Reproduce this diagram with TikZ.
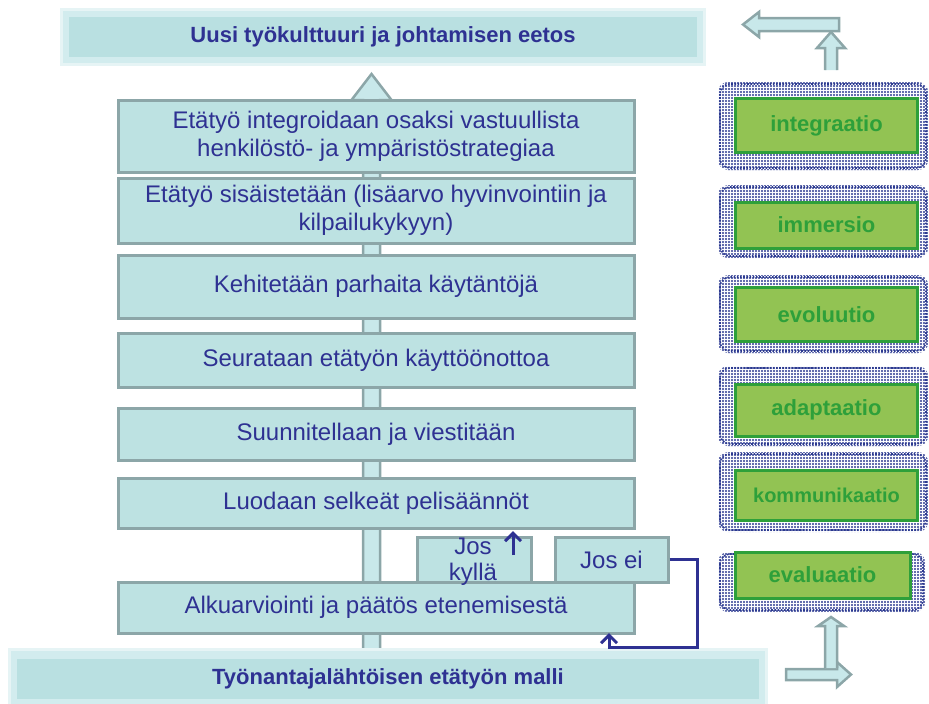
\documentclass[tikz,border=0pt]{standalone}
\usepackage{fontspec}
\setmainfont{Liberation Sans}
\usetikzlibrary{arrows.meta,patterns.meta,calc}
\definecolor{navy}{HTML}{2E3192}
\definecolor{stepfill}{HTML}{BDE2E2}
\definecolor{stepline}{HTML}{8CA6A8}
\definecolor{glowout}{HTML}{E6F4F5}
\definecolor{glowmid}{HTML}{D2ECEE}
\definecolor{glowin}{HTML}{B9E0E1}
\definecolor{greenfill}{HTML}{92C353}
\definecolor{greenline}{HTML}{2EA03A}
\definecolor{dotblue}{HTML}{2B3990}
\definecolor{arrfill}{HTML}{C8E8EA}
\tikzdeclarepattern{name=halodots,type=uncolored,
  bottom left={(-1.5pt,-1.5pt)},top right={(1.5pt,1.5pt)},
  tile size={(3pt,3pt)},code={\fill (0pt,0pt) circle (1.05pt);}}
\tikzset{
  stepbox/.style={draw=stepline,fill=stepfill,line width=3pt,text=navy,
    align=center,font=\fontsize{24}{28}\selectfont,inner sep=0pt},
  glowtext/.style={text=navy,font=\fontsize{22}{26}\selectfont\bfseries},
  greenbox/.style={draw=greenline,fill=greenfill,line width=3pt,text=greenline,
    font=\fontsize{22}{26}\selectfont\bfseries,inner sep=0pt},
  halo/.style={pattern=halodots,pattern color=dotblue,rounded corners=10pt},
  haloedge/.style={draw=dotblue,line width=1.6pt,dash pattern=on 1.6pt off 1.6pt,rounded corners=10pt},
  hollow/.style={draw=stepline,fill=arrfill,line width=2.5pt,line join=miter},
  navyline/.style={draw=navy,line width=3pt,-{Straight Barb[length=8pt,width=16pt,line width=3pt]}}
}
\begin{document}
\begin{tikzpicture}[x=1pt,y=-1pt]
\useasboundingbox (0,0) rectangle (929,704);
% central hollow arrow
\coordinate (cb) at (371.5,650);
\coordinate (ct) at (371.5,74);
\draw[hollow] ($(cb)+(-8.5,0)$) -- ($(ct)+(-8.5,26)$) -- ($(ct)+(-20,26)$) -- (ct)
  -- ($(ct)+(20,26)$) -- ($(ct)+(8.5,26)$) -- ($(cb)+(8.5,0)$);
% top glow box
\fill[glowout] (60,8) rectangle (706,66);
\fill[glowmid] (63,11) rectangle (703,63);
\node[fill=glowin,minimum width=628pt,minimum height=40pt,inner sep=0pt,glowtext] (top) at (383,37) {Uusi työkulttuuri ja johtamisen eetos};
% bottom glow box
\fill[glowout] (8,648) rectangle (768,704);
\fill[glowmid] (11,651) rectangle (765,704);
\node[fill=glowin,minimum width=742pt,minimum height=40pt,inner sep=0pt,glowtext] (bottom) at (388,679) {Työnantajalähtöisen etätyön malli};
% steps
\node[stepbox,minimum width=516pt,minimum height=72pt] (s1) at (376,136) {Etätyö integroidaan osaksi vastuullista\\henkilöstö- ja ympäristöstrategiaa};
\node[stepbox,minimum width=516pt,minimum height=65pt] (s2) at (376,210.5) {Etätyö sisäistetään (lisäarvo hyvinvointiin ja\\kilpailukykyyn)};
\node[stepbox,minimum width=516pt,minimum height=63pt] (s3) at (376,286.5) {Kehitetään parhaita käytäntöjä};
\node[stepbox,minimum width=516pt,minimum height=54pt] (s4) at (376,360) {Seurataan etätyön käyttöönottoa};
\node[stepbox,minimum width=516pt,minimum height=52pt] (s5) at (376,434) {Suunnitellaan ja viestitään};
\node[stepbox,minimum width=516pt,minimum height=50pt] (s6) at (376,503) {Luodaan selkeät pelisäännöt};
\node[stepbox,minimum width=516pt,minimum height=51pt] (s7) at (376,607.5) {Alkuarviointi ja päätös etenemisestä};
\node[stepbox,minimum width=114pt,minimum height=45pt] (jk) at (474,559.5) {};
\node[text=navy,align=center,font=\fontsize{24}{26}\selectfont,inner sep=0pt] (jkt) at (473,562) {Jos\\kyllä};
\node[stepbox,minimum width=113pt,minimum height=45pt] (je) at (611.5,559.5) {Jos ei};
% connectors
\coordinate (k1) at (513,555);
\coordinate (k2) at (513,531);
\draw[navyline] (k1) -- (k2);
\coordinate (c1) at (697,647);
\coordinate (c2) at (609,633);
\draw[navyline,line join=miter] (je.east) -| (c1) -| (c2);
% right column halos and green boxes
\fill[halo] (718,82) rectangle (928,170);
\draw[haloedge] (720,84) rectangle (926,168);
\node[greenbox,minimum width=182pt,minimum height=54pt] (g1) at (826.5,125.5) {integraatio};
\fill[halo] (718,185) rectangle (928,258);
\draw[haloedge] (720,187) rectangle (926,256);
\node[greenbox,minimum width=182pt,minimum height=46pt] (g2) at (826.5,225) {immersio};
\fill[halo] (718,275) rectangle (928,353);
\draw[haloedge] (720,277) rectangle (926,351);
\node[greenbox,minimum width=182pt,minimum height=54pt] (g3) at (826.5,314.5) {evoluutio};
\fill[halo] (718,366) rectangle (928,446);
\draw[haloedge] (720,368) rectangle (926,444);
\node[greenbox,minimum width=182pt,minimum height=52pt] (g4) at (826.5,410) {adaptaatio};
\fill[halo] (718,452) rectangle (928,532);
\draw[haloedge] (720,454) rectangle (926,530);
\node[greenbox,minimum width=182pt,minimum height=50pt,font=\fontsize{20}{24}\selectfont\bfseries] (g5) at (826.5,495) {kommunikaatio};
\fill[halo] (718,552) rectangle (925,612);
\draw[haloedge] (720,554) rectangle (923,610);
\node[greenbox,minimum width=175pt,minimum height=46pt] (g6) at (822.5,575) {evaluaatio};
% right top arrows
\draw[hollow] (839,18) -- (759,18) -- (759,12) -- (743,24.5) -- (759,37) -- (759,31) -- (839,31) -- cycle;
\draw[hollow] (825,70) -- (825,48) -- (817,48) -- (831,32) -- (845,48) -- (837,48) -- (837,70);
% right bottom arrows
\draw[hollow] (786,669) -- (837,669) -- (837,662) -- (851,674.5) -- (837,687) -- (837,680) -- (786,680) -- cycle;
\draw[hollow] (825,668) -- (825,626) -- (818,626) -- (831,617) -- (844,626) -- (837,626) -- (837,668);
\end{tikzpicture}
\end{document}
